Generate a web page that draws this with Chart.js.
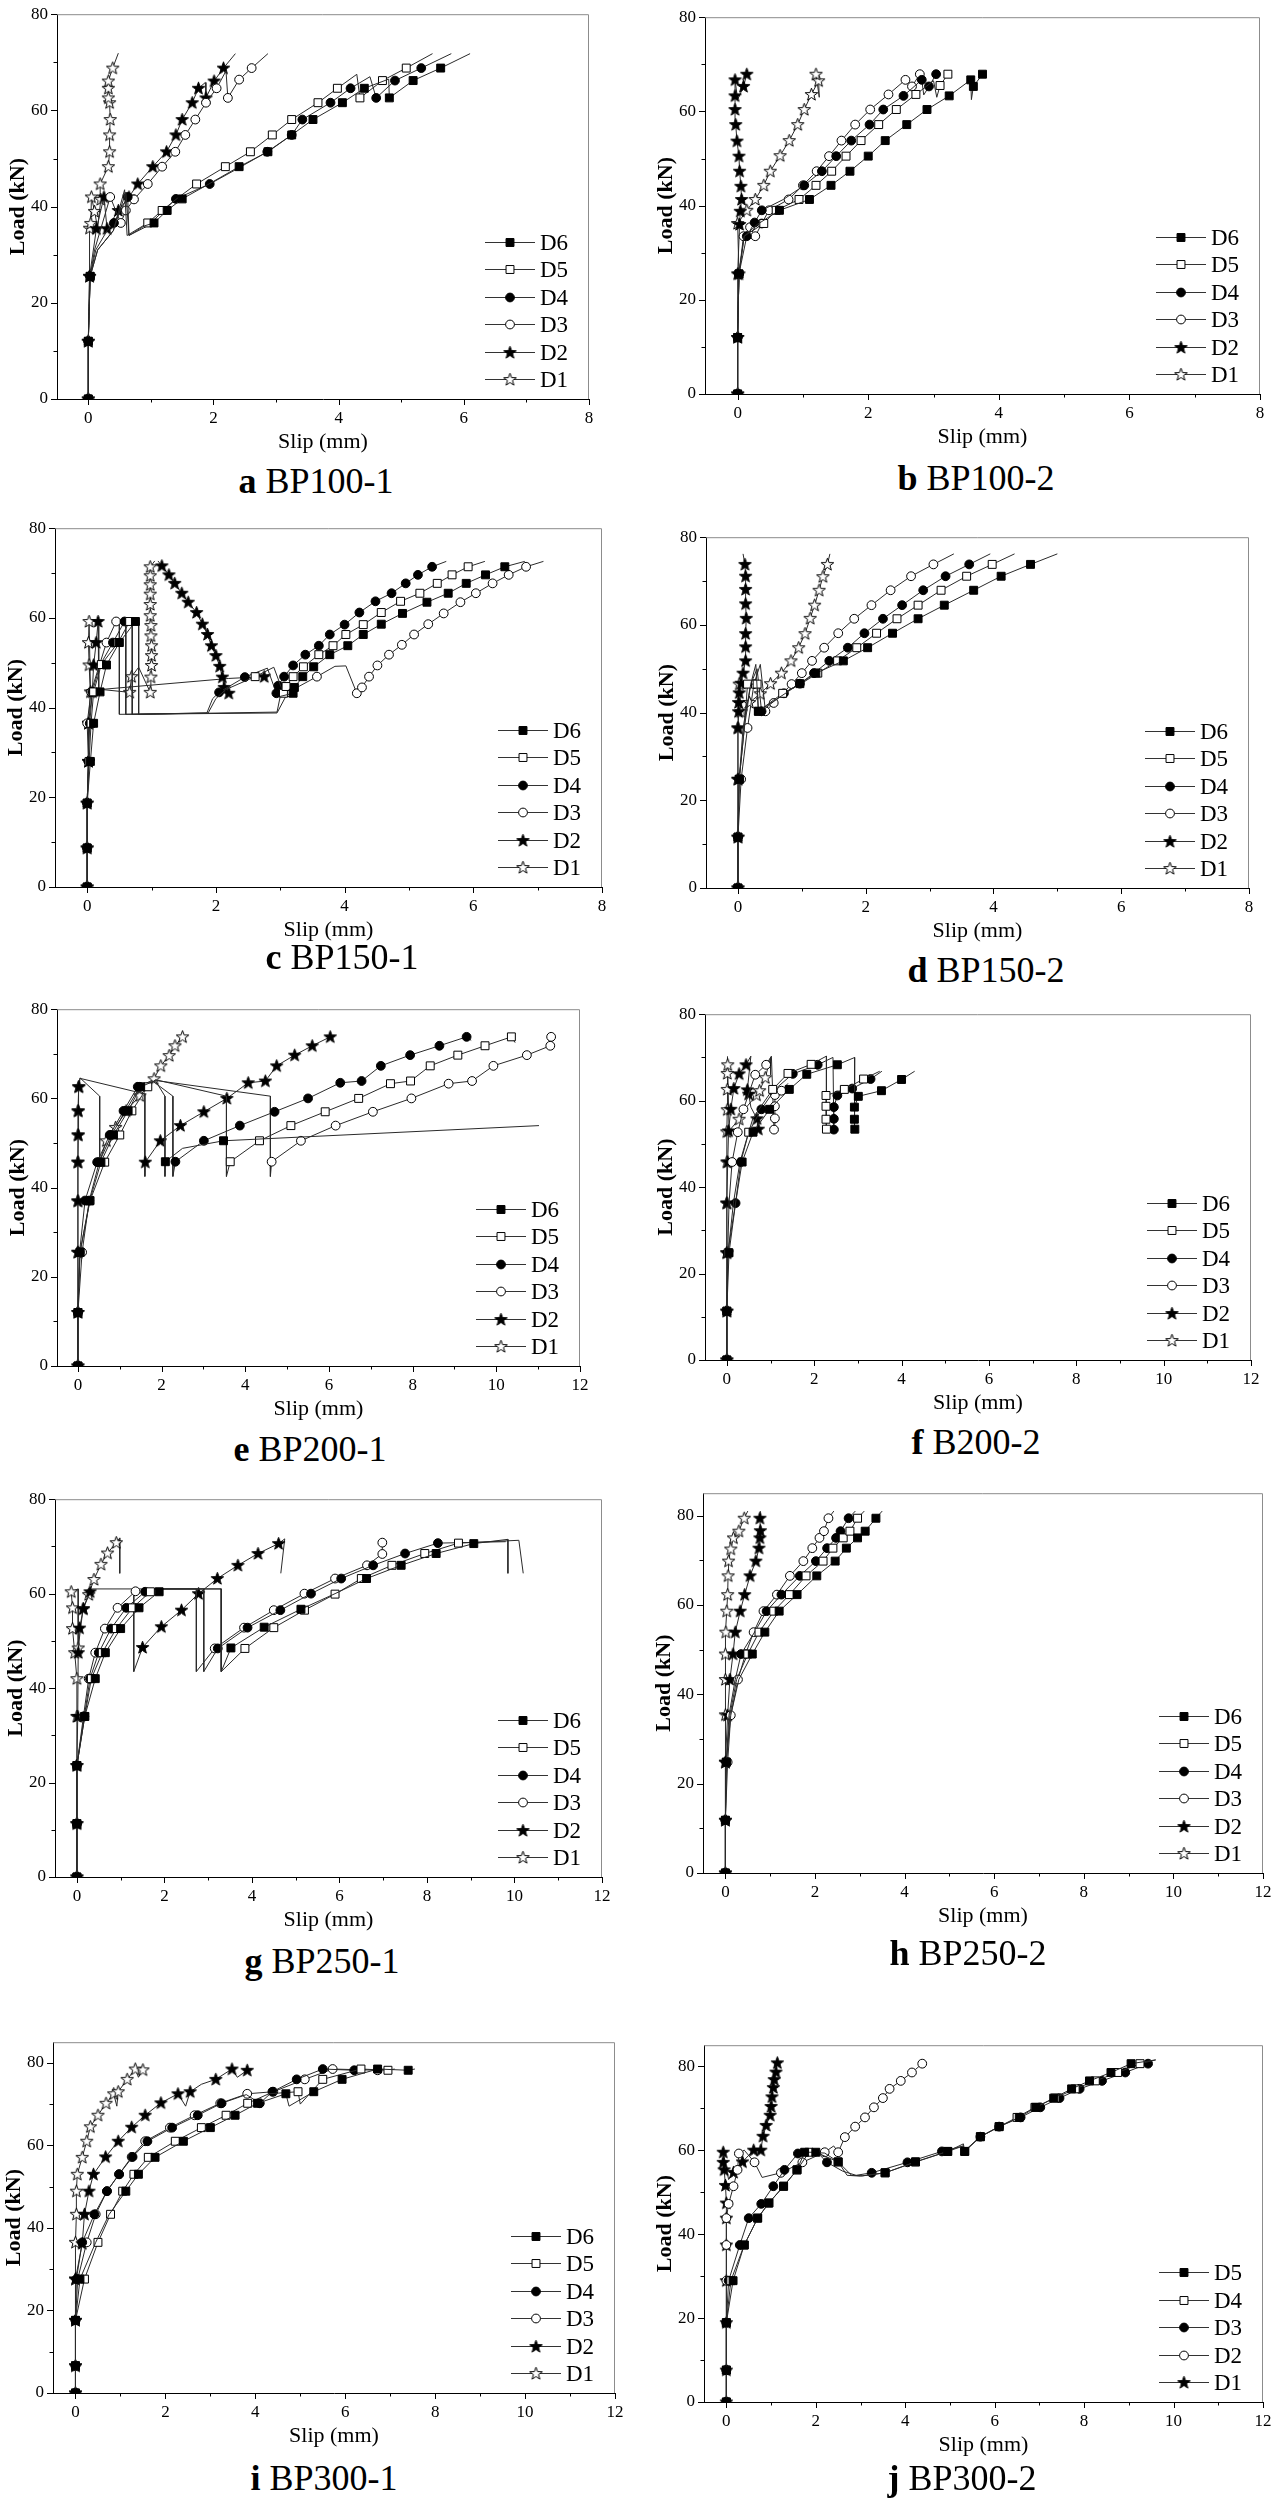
<!DOCTYPE html>
<html>
<head>
<meta charset="utf-8">
<script src="https://cdn.jsdelivr.net/npm/chart.js@4.4.1/dist/chart.umd.min.js"></script>
<style>
body { margin: 0; background: #fff; }
#page { position: relative; width: 1277px; height: 2507px; overflow: hidden; }
.panel { position: absolute; }
.cap { position: absolute; font-family: "Liberation Serif", serif; font-size: 36px; white-space: nowrap; transform: translate(-50%, -50%); color: #000; }
</style>
</head>
<body>
<div id="page"></div>
<script>
// Load-slip curves, one array per gauge and panel: [slip mm, load kN] (third value 0 = no marker, null = gap)

const namesSix = ['D6', 'D5', 'D4', 'D3', 'D2', 'D1'];
const namesFive = ['D5', 'D4', 'D3', 'D2', 'D1'];
const xTicksShort = [0, 1, 2, 3, 4, 5, 6, 7, 8];
const xTicksLong = [0, 1, 2, 3, 4, 5, 6, 7, 8, 9, 10, 11, 12];
const yTickValues = [0, 10, 20, 30, 40, 50, 60, 70, 80];

// a BP100-1
const a_D6 = [[0,0],[0,12],[0.03,25.5],[0.15,31,0],[0.4,35,0],[0.6,43,0],[0.65,34,0],[0.9,36,0],[1.05,36.6],[1.26,39.2],[1.5,41.6],[1.9,44.5,0],[2.41,48.3],[2.87,51.4],[3.25,54.9],[3.59,58.1],[4.06,61.6],[4.41,64.6],[4.8,66.5,0],[4.81,62.6],[5.19,66.2],[5.63,68.8],[6.1,71.8,0]];
const a_D5 = [[0,0],[0,12],[0.03,25.5],[0.15,31,0],[0.4,35,0],[0.58,43.5,0],[0.62,34,0],[0.95,36.6],[1.18,39.2],[1.45,42,0],[1.73,44.7],[2.19,48.3],[2.59,51.4],[2.94,54.9],[3.25,58.1],[3.67,61.6],[3.98,64.6],[4.29,67.5,0],[4.34,62.6],[4.7,66.2],[5.08,68.8],[5.5,71.8,0]];
const a_D4 = [[0,0],[0,12],[0.03,25.5],[0.12,31,0],[0.3,35,0],[0.41,36.6],[0.63,42],[0.65,34,0],[0.95,36,0],[1.4,41.6],[1.94,44.7],[2.4,48,0],[2.86,51.4],[3.25,54.9],[3.42,58.1],[3.87,61.6],[4.19,64.6],[4.5,67,0],[4.6,62.6],[4.9,66.2],[5.32,68.8],[5.8,71.8,0]];
const a_D3 = [[0,0],[0,12],[0.03,25.5],[0.1,31,0],[0.35,42],[0.52,36.6],[0.6,39.2],[0.73,41.5],[0.95,44.7],[1.18,48.3],[1.39,51.4],[1.55,54.9],[1.71,58.1],[1.88,61.6],[2.05,64.6],[2.2,68.2,0],[2.23,62.6],[2.41,66.4],[2.61,68.8],[2.87,71.8,0]];
const a_D2 = [[0,0],[0,12],[0.02,25.5],[0.13,35.4],[0.25,42],[0.3,35.4],[0.48,39.2],[0.65,42],[0.79,44.7],[1.03,48.3],[1.25,51.4],[1.4,54.9],[1.5,58.1],[1.66,61.6],[1.76,64.6],[1.87,65.8,0],[1.88,62.6],[2.01,66.1],[2.16,68.8],[2.35,71.8,0]];
const a_D1 = [[0,0],[0,12],[0.02,25.5],[0.02,35.5],[0.04,36.5],[0.05,42],[0.1,39],[0.15,35.5,0],[0.2,41.5],[0.19,44.7],[0.32,48.3],[0.34,51.4],[0.34,54.9],[0.35,58.1],[0.34,61.6],[0.32,62.6],[0.32,64.6],[0.32,66.1],[0.39,68.8],[0.48,71.9,0]];

// b BP100-2
const b_D6 = [[0,0],[0,12],[0.02,25.5],[0.1,33.5,0],[0.3,36,0],[0.64,39],[1.1,41.3],[1.43,44.3],[1.72,47.3],[2.0,50.5],[2.26,53.8],[2.59,57.2],[2.9,60.4],[3.24,63.3],[3.57,66.7],[3.58,62.5,0],[3.61,65.3],[3.75,67.9]];
const b_D5 = [[0,0],[0,12],[0.02,25.5],[0.1,33.5,0],[0.4,36.2],[0.59,39],[0.94,41.3],[1.2,44.3],[1.44,47.3],[1.66,50.5],[1.89,53.8],[2.16,57.2],[2.43,60.4],[2.73,63.6],[3.0,66.5,0],[3.05,63,0],[3.1,65.5],[3.22,67.9]];
const b_D4 = [[0,0],[0,12],[0.02,25.5],[0.14,33.5],[0.26,36.4],[0.37,39],[0.7,41.3,0],[1.02,44.3],[1.29,47.3],[1.51,50.5],[1.74,53.8],[2.02,57.2],[2.23,60.4],[2.54,63.3],[2.82,66.7],[2.85,63.5,0],[2.93,65.3],[3.04,67.9]];
const b_D3 = [[0,0],[0,12],[0.02,25.5],[0.09,33.5],[0.19,35.4],[0.27,33.5],[0.37,36.2],[0.48,39],[0.78,41.3],[1.0,44.3],[1.21,47.3],[1.4,50.5],[1.59,53.8],[1.8,57.2],[2.03,60.4],[2.31,63.6],[2.57,66.7],[2.67,65.3],[2.79,67.9]];
const b_D2 = [[0,0],[0,12],[0,25.5],[0.03,36],[0.04,38.8],[0.06,41.3],[0.05,44.1],[0.03,47.3],[0.02,50.5],[-0.01,53.7],[-0.03,57.2],[-0.04,60.4],[-0.04,63.3],[-0.04,66.7],[0,62.5,0],[0.09,65.3],[0.14,67.9]];
const b_D1 = [[0,0],[0,12],[0.02,25.5],[0,36.2],[0.14,39],[0.27,41.3],[0.4,44.3],[0.5,47.3],[0.65,50.6],[0.79,53.8],[0.92,57.2],[1.02,60.4],[1.13,63.6],[1.24,66.5],[1.25,63,0],[1.2,67.9]];

// c BP150-1
const c_D6 = [[0,0],[0,8.7],[0,18.7],[0.05,28],[0.1,36.5],[0.2,43.5],[0.3,49.5],[0.5,54.5],[0.75,59.2],[0.8,59.2,0],[0.8,38.5,0],[2.95,39,0],[3.0,42.5,0],[3.2,43.2],[3.22,44.5],[3.35,46.9],[3.52,49.1],[3.77,51.8],[4.05,53.8],[4.29,56.3],[4.57,58.6],[4.9,61],[5.28,63.5],[5.61,65.5],[5.89,67.7],[6.19,69.6],[6.49,71.4],[6.8,72.6,0]];
const c_D5 = [[0,0],[0,8.7],[0,18.7],[0.03,28],[0.06,36.5],[0.1,43.5],[0.22,49.6],[0.48,54.5],[0.66,59.2],[0.7,59.2,0],[0.7,38.5,0],[1.88,38.8,0],[2.0,42,0],[2.15,44,0],[2.61,46.9],[2.9,49,0],[3.05,43.2],[3.09,44.7],[3.2,46.9],[3.36,49.1],[3.6,51.8],[3.82,53.8],[4.02,56.3],[4.29,58.5],[4.57,61.2],[4.87,63.7],[5.17,65.5],[5.44,67.7],[5.67,69.6],[5.92,71.4],[6.18,72.6,0]];
const c_D4 = [[0,0],[0,8.7],[0,18.7],[0.02,28],[0.04,36.5],[0.08,43.5],[0.2,49.5,0],[0.4,54.5],[0.58,59.2],[0.6,59.2,0],[0.6,38.5,0],[1.86,38.8,0],[1.95,42,0],[2.05,43.4],[2.45,46.8],[2.8,48.8,0],[2.94,43.2],[2.97,44.9],[3.06,46.9],[3.2,49.4],[3.39,51.8],[3.6,53.8],[3.77,56.3],[4.0,58.5],[4.23,61.2],[4.48,63.7],[4.73,65.5],[4.95,67.7],[5.14,69.6],[5.36,71.4],[5.58,72.6,0]];
const c_D3 = [[0,0],[0,8.7],[0,18.7],[0.02,28],[0.0,36.5],[0.06,43.5],[0.3,54.5],[0.45,59.2],[0.5,59.2,0],[0.5,38.5,0],[2.95,38.8,0],[3.12,43.4],[3.57,46.9],[3.85,49.2,0],[4.02,49.3,0],[4.19,43.2],[4.27,44.5],[4.38,46.9],[4.51,49.4],[4.69,51.8],[4.89,54],[5.08,56.3],[5.3,58.6],[5.54,61],[5.8,63.5],[6.04,65.5],[6.3,67.7],[6.55,69.6],[6.82,71.4],[7.09,72.6,0]];
const c_D2 = [[0,0],[0,8.7],[0,18.7],[0.02,28],[0.02,36.5],[0.08,43.5],[0.1,49.5],[0.14,54.5],[0.17,59.2],[0.18,44,0],[2.2,46.5,0],[2.75,46.9],[2.85,47.5,0],null,[1.1,72.7,0],[1.16,71.6],[1.27,69.6],[1.36,67.7],[1.47,65.5],[1.57,63.5],[1.7,61.2],[1.79,58.6],[1.87,56.3],[1.93,53.8],[2.0,51.6],[2.06,49.2],[2.1,46.8],[2.13,44.5],[2.2,43.2]];
const c_D1 = [[0,0],[0,8.7],[0,18.7],[0.02,28],[0.02,36.5],[0.05,43.5],[0.03,49.5],[0.02,54.5],[0.03,59.2],[0.05,44.3,0],[0.66,43.4],[0.69,46.9],[0.8,49,0],[0.98,43.4],[0.99,46.8],[1.0,49.4],[1.0,51.6],[1.0,53.8],[0.99,56],[0.99,58.3],[0.98,60.5],[0.98,63],[0.98,65.3],[0.98,67.4],[0.98,69.4],[0.98,71.4],[1.05,72.7,0]];

// d BP150-2
const d_D6 = [[0,0],[0,11.6],[0.02,24.8],[0.1,36.5,0],[0.2,46.5,0],[0.28,51,0],[0.32,40.3],[0.6,43,0],[0.97,46.6],[1.22,49],[1.65,51.8],[2.03,54.8],[2.42,58.1],[2.82,61.4],[3.23,64.5],[3.69,67.9],[4.12,71.1],[4.58,73.8],[5.0,76.2,0]];
const d_D5 = [[0,0],[0,11.6],[0.02,24.8],[0.1,36.5,0],[0.15,46.5],[0.3,46.5],[0.32,40.3],[0.7,44.4],[1.0,46.7,0],[1.25,49],[1.56,51.8],[1.86,54.8],[2.17,58.1],[2.49,61.4],[2.82,64.5],[3.18,67.9],[3.58,71.1],[3.98,73.8],[4.33,76.2,0]];
const d_D4 = [[0,0],[0,11.6],[0.02,24.8],[0.08,36.5,0],[0.2,46.5,0],[0.3,50,0],[0.37,40.3],[0.72,44.4],[0.97,46.6],[1.19,49],[1.43,51.8],[1.72,54.8],[1.98,58.1],[2.27,61.4],[2.57,64.5],[2.9,67.9],[3.25,71.1],[3.62,73.8],[3.95,76.2,0]];
const d_D3 = [[0,0],[0,11.6],[0.05,24.8],[0.15,36.5],[0.25,46.5],[0.35,51,0],[0.43,40.3],[0.56,42.2],[0.84,46.5],[1.0,49],[1.16,51.8],[1.35,54.8],[1.57,58.1],[1.82,61.4],[2.09,64.5],[2.39,67.9],[2.71,71.1],[3.06,73.8],[3.38,76.2,0]];
const d_D2 = [[0,0],[0,11.6],[0,24.8],[0,36.5],[0.01,40.2],[0.01,42.3],[0.02,44.5],[0.05,46.7],[0.08,49],[0.12,51.8],[0.12,55],[0.12,58],[0.13,61.5],[0.12,64.8],[0.12,68.1],[0.12,71.1],[0.11,73.8],[0.08,76.2,0]];
const d_D1 = [[0,0],[0,11.6],[0,24.8],[0,36.5],[0.02,46.5],[0.05,40.2],[0.18,42.3],[0.35,44.3],[0.51,46.6],[0.68,49],[0.83,51.8],[0.95,54.8],[1.05,58],[1.13,61.5],[1.2,64.5],[1.27,67.9],[1.33,71],[1.4,73.8],[1.44,76.2,0]];

// e BP200-1
const e_D6 = [[0,0],[0,12],[0.05,25.5],[0.28,37],[0.55,45.7],[0.85,51.8],[1.2,57.2],[1.5,62.6],[1.85,64,0],[2.08,60.5,0],[2.08,42.5,0],[2.09,45.8],[2.5,48.8,0],[3.48,50.5],[11.02,53.9,0]];
const e_D5 = [[0,0],[0,12],[0.05,25.5],[0.29,37.1],[0.64,45.7],[1.0,51.8],[1.29,57.2],[1.67,62.6],[1.85,64.2,0],[3.55,60.5,0],[3.55,42.5,0],[3.64,45.8],[4.34,50.5],[5.09,53.9],[5.91,57],[6.71,60],[7.47,63.3],[7.95,63.9],[8.42,67.3],[9.08,69.7],[9.73,71.8],[10.36,73.8],[10.45,72.5,0]];
const e_D4 = [[0,0],[0,12],[0.04,25.5],[0.17,37.1],[0.46,45.7],[0.76,51.8],[1.09,57.2],[1.43,62.6],[1.77,64,0],[2.27,60.5,0],[2.27,42.5,0],[2.33,45.8],[3.01,50.5],[3.87,53.9],[4.7,57],[5.5,60],[6.27,63.5],[6.78,63.9],[7.24,67.3],[7.94,69.7],[8.64,71.8],[9.29,73.8],[9.4,73,0]];
const e_D3 = [[0,0],[0,12],[0.1,25.5],[0.27,37.1],[0.51,45.7],[0.8,51.8],[1.14,57.2],[1.48,62.6],[1.87,64,0],[4.6,60.5,0],[4.6,42.5,0],[4.63,45.8],[5.33,50.5],[6.16,53.9],[7.05,57],[7.97,60],[8.86,63.3],[9.42,63.9],[9.93,67.3],[10.73,69.7],[11.29,71.8],[11.31,73.8]];
const e_D2 = [[0,0],[0,12],[0,25.5],[0,37],[0,45.7],[0.01,51.8],[0.01,57.2],[0.02,62.6],[0.05,64.5,0],[1.6,61,0],[1.6,42.5,0],[1.61,45.7],[1.97,50.5],[2.45,53.9],[3.01,57],[3.56,60],[4.07,63.5],[4.48,63.9],[4.75,67.3],[5.18,69.7],[5.6,71.8],[6.03,73.8]];
const e_D1 = [[0,0],[0,12],[0,25.5],[0,37],[0,45.7],[0,51.8],[0,57.2],[0.02,62.6],[0.05,64.6,0],[0.52,60.5,0],[0.52,45.8,0],[0.68,50.5],[0.9,53.5],[1.15,57.2],[1.48,60.6],[1.82,64.4],[1.98,67.3],[2.18,69.6],[2.32,71.8],[2.5,73.8]];

// f B200-2
const f_D6 = [[0,0],[0,11.3],[0.05,24.8],[0.2,36.3,0],[0.35,45.8],[0.6,52.7],[0.98,58],[1.43,62.6],[1.83,66.1],[2.53,68.3],[2.93,70,0],[2.93,53.4],[2.92,55.7],[2.92,58.5],[3.01,61],[3.54,62.3],[4.0,64.9],[4.3,66.8,0]];
const f_D5 = [[0,0],[0,11.3],[0.03,24.8],[0.15,36.3,0],[0.3,45.8,0],[0.5,52.7],[0.6,56,0],[1.05,62.6],[1.4,66.3],[1.93,68.4],[2.28,70.3,0],[2.28,53.4],[2.27,55.7],[2.27,58.7],[2.27,61.2],[2.69,62.6],[3.13,65],[3.5,66.8,0]];
const f_D4 = [[0,0],[0,11.3],[0.02,24.8],[0.2,36.3],[0.32,45.8],[0.5,52.7,0],[0.79,58],[1.1,62.6,0],[1.51,66.2],[2.08,68.3],[2.43,70,0],[2.45,53.3],[2.45,55.8],[2.45,58.5],[2.53,61.2],[2.87,62.8],[3.29,65],[3.55,66.8,0]];
const f_D3 = [[0,0],[0,11.3],[0.02,24.8],[0.05,36.3,0],[0.12,45.8],[0.25,52.7],[0.38,58],[0.65,66],[0.9,68.3],[1.02,70.3,0],[1.08,53.3],[1.1,55.9],[1.1,58.7],[1.1,61.3],[1.25,62.3],[1.4,64,0]];
const f_D2 = [[0,0],[0,11.3],[0,24.8],[0,36.3],[0.02,45.8],[0.04,53],[0.09,58],[0.16,62.8],[0.28,66.2],[0.44,68.3],[0.55,70.3,0],[0.47,62.5],[0.5,61.5],[0.55,58.5,0],[0.69,55.8],[0.72,53.4]];
const f_D1 = [[0,0],[0,11.3],[0,24.8],[0,36.3],[0,45.8],[0,52.8],[0.01,57.9],[0.01,62.6],[0.01,66.3],[0.02,68.3],[0.02,70.2,0],[0.05,53,0],[0.28,55.7],[0.45,58.5,0],[0.68,61.3],[0.75,62.3],[0.88,65.3],[1.0,69.9,0],[1.0,66,0]];

// g BP250-1
const g_D6 = [[0,0],[0,11.3],[0,23.6],[0.18,34],[0.42,42],[0.65,47.5],[1.0,52.6],[1.42,57],[1.88,60.4],[1.95,61,0],[3.3,61,0],[3.3,43.5,0],[3.52,48.5],[4.28,52.9],[5.12,56.7],[5.9,60,0],[6.62,63.2],[7.41,66],[8.21,68.5],[9.07,70.6],[9.85,71.5,0],[9.85,64.3,0]];
const g_D5 = [[0,0],[0,11.3],[0,23.6],[0.18,34],[0.33,42],[0.58,47.5],[0.9,52.6],[1.27,57],[1.68,60.4],[1.75,61,0],[3.3,61,0],[3.3,43.5,0],[3.84,48.4],[4.5,52.8],[5.2,56.5],[5.9,59.9],[6.5,63.2],[7.2,66],[7.95,68.5],[8.72,70.7],[10.1,71.3,0],[10.2,64.3,0]];
const g_D4 = [[0,0],[0,11.3],[0,23.6],[0.17,34],[0.3,42],[0.5,47.5],[0.78,52.6],[1.13,57],[1.56,60.4],[1.62,61,0],[2.9,61,0],[2.9,43.5,0],[3.22,48.4],[3.9,52.8],[4.65,56.5],[5.35,60],[6.04,63.2],[6.77,66],[7.5,68.5],[8.25,70.7],[9.8,71,0]];
const g_D3 = [[0,0],[0,11.3],[0,23.6],[0.15,34],[0.27,42],[0.42,47.5],[0.64,52.6],[0.93,57],[1.34,60.5],[1.4,61,0],[2.73,61,0],[2.73,43.5,0],[3.15,48.4],[3.82,52.8],[4.5,56.5],[5.2,60],[5.9,63.2],[6.63,66],[6.98,68.4],[6.98,70.8]];
const g_D2 = [[0,0],[0,11.3],[0,23.6],[0.02,34],[0.03,47.5],[0.06,52.7],[0.15,56.8],[0.3,60.4],[0.35,61,0],[1.3,61,0],[1.3,43.5,0],[1.5,48.6],[1.93,53],[2.39,56.5],[2.78,60],[3.21,63.2],[3.68,66],[4.14,68.5],[4.61,70.6],[4.75,71.6,0],[4.66,64.3,0]];
const g_D1 = [[0,0],[0,11.3],[0,23.6],[0,34],[0,42],[-0.05,47.5],[-0.1,52.6],[-0.1,57],[-0.13,60.4],[0.03,61,0],[0.03,48.5],[0.14,56.8],[0.27,59.8],[0.39,63],[0.55,66.2],[0.7,68.6],[0.9,70.8],[0.98,71.8,0],[0.98,64.3,0]];

// h BP250-2
const h_D6 = [[0,0],[0,11.8],[0.02,24.8],[0.12,35.3,0],[0.3,43.3,0],[0.6,49],[0.88,53.9],[1.2,58.6],[1.6,62.3],[2.04,66.5],[2.45,69.8],[2.7,72.7],[2.95,75],[3.12,76.5],[3.36,79.4],[3.5,81,0]];
const h_D5 = [[0,0],[0,11.8],[0.02,24.8],[0.1,35.3,0],[0.25,43.3,0],[0.5,49],[0.75,53.9],[1.08,58.6],[1.43,62.3],[1.8,66.5],[2.18,69.8],[2.4,72.7],[2.63,75],[2.78,76.5],[2.95,79.4],[3.1,81,0]];
const h_D4 = [[0,0],[0,11.8],[0.02,24.8],[0.08,35.3,0],[0.22,43.3,0],[0.35,49],[0.65,53.9,0],[0.92,58.6],[1.25,62.3],[1.66,66.5],[2.02,69.8],[2.27,72.7],[2.47,75],[2.57,76.5],[2.75,79.4],[2.9,81,0]];
const h_D3 = [[0,0],[0,11.8],[0.05,24.8],[0.12,35.3],[0.28,43.3],[0.45,49],[0.63,53.9],[0.85,58.6],[1.15,62.3],[1.44,66.5],[1.74,69.8],[1.94,72.7],[2.1,75],[2.2,76.5],[2.3,79.4],[2.42,81,0]];
const h_D2 = [[0,0],[0,11.8],[0,24.8],[0.05,35.3],[0.1,43.3],[0.17,49],[0.22,53.9],[0.33,58.6],[0.43,62.3],[0.55,66.5],[0.68,69.8],[0.75,72.7],[0.77,75],[0.78,76.6],[0.77,79.4],[0.78,81,0]];
const h_D1 = [[0,0],[0,11.8],[0,24.8],[0,35.4],[0,43.3],[0,49],[0.01,53.9],[0.03,58.6],[0.05,62.3],[0.06,66.5],[0.07,69.8],[0.12,72.5],[0.18,75],[0.3,76.5],[0.42,79.4],[0.5,81,0]];

// i BP300-1
const i_D6 = [[0,0],[0,6.6],[0,17.6],[0.1,27.6],[0.45,36.5,0],[0.75,43.3,0],[1.12,48.9],[1.4,53],[1.77,57.1],[2.4,61],[3.0,64.3],[3.55,67.3],[4.05,70.2],[4.68,72.5],[4.75,69.5,0],[5.3,73],[5.93,76],[6.72,78.5],[7.4,78.2],[7.55,78.5,0]];
const i_D5 = [[0,0],[0,6.6],[0,17.6],[0.2,27.6],[0.5,36.5],[0.78,43.3],[1.05,48.9],[1.3,53],[1.62,57.1],[2.22,61],[2.8,64.3],[3.35,67.3],[3.83,70.2],[4.3,72.5,0],[4.95,73],[5.0,70,0],[5.5,76],[6.35,78.5],[6.95,78.2],[7.1,78.5,0]];
const i_D4 = [[0,0],[0,6.6],[0,17.6],[0.02,27.6],[0.15,36.5],[0.42,43.3],[0.7,48.9],[0.97,53],[1.27,57.2],[1.6,61],[2.15,64.3],[2.72,67.3],[3.25,70.2],[3.8,72.3,0],[4.1,70.2],[4.38,73],[4.92,76],[5.5,78.5],[6.2,78.2],[6.4,78.5,0]];
const i_D3 = [[0,0],[0,6.6],[0,17.6],[0.05,27.6],[0.25,36.5],[0.45,43.3],[0.7,48.9],[0.97,53],[1.25,57.2],[1.55,61],[2.1,64.3],[2.65,67.3],[3.22,70.2],[3.82,72.5],[4.4,73],[5.1,76],[5.72,78.5],[6.72,78.2],[6.9,78.5,0]];
const i_D2 = [[0,0],[0,6.6],[0,17.6],[0,27.6],[0.15,36.2],[0.2,43.3],[0.3,48.9],[0.4,53],[0.67,57.2],[0.95,61],[1.25,64.4],[1.55,67.3],[1.9,70.3],[2.28,72.5],[2.45,69.5,0],[2.55,73],[2.8,74.8,0],[3.12,76],[3.48,78.5],[3.6,76.5,0],[3.82,78.2]];
const i_D1 = [[0,0],[0,6.6],[0,17.6],[0,27.6],[0,36.5],[0.02,43.3],[0.02,48.9],[0.04,53],[0.15,57.1],[0.25,61],[0.33,64.5],[0.5,67.3],[0.68,70.2],[0.85,72.5],[0.92,69.5,0],[0.95,73],[1.15,76],[1.33,78.5],[1.4,76.5,0],[1.5,78.3]];

// j BP300-2 (five gauges)
const j_D5 = [[0,0],[0,7.6],[0,18.9],[0.15,28.9],[0.4,37.4],[0.7,43.8],[0.95,47.4],[1.28,51.4],[1.58,55.3],[1.75,59.5],[2.0,59.5],[2.5,57.2],[2.7,54,0],[3.0,53.8,0],[3.55,54.6],[4.23,57.2],[4.95,59.7],[5.3,61.5,0],[5.33,59.7],[5.68,63.2],[6.1,65.6],[6.55,67.8],[6.92,70.2],[7.32,72.4],[7.72,74.6],[8.12,76.5],[8.6,78.5],[9.05,80.6],[9.6,81.5,0]];
const j_D4 = [[0,0],[0,7.6],[0,18.9],[0.1,28.9],[0.4,37.4],[0.7,43.8],[0.95,47.4],[1.28,51.4],[1.58,55.3],[1.85,59.5],[2.2,59.3,0],[2.5,57.2],[2.8,54,0],[3.05,53.9,0],[3.55,54.6],[4.23,57.2],[4.95,59.7],[5.3,61,0],[5.33,59.7],[5.68,63.2],[6.1,65.6],[6.5,67.8],[6.9,70.2],[7.35,72.4],[7.8,74.6],[8.25,76.5],[8.75,78.5],[9.25,80.6],[9.6,81.5,0]];
const j_D3 = [[0,0],[0,7.6],[0,18.9],[0.05,28.9],[0.3,37.4],[0.5,43.8],[0.78,47.2],[1.05,51.4],[1.3,55.3],[1.6,59.2],[2.0,59.8,0],[2.25,57.1],[2.6,55,0],[2.9,54,0],[3.25,54.6],[4.05,57.1],[4.82,59.7],[5.3,61,0],[5.32,59.8,0],[5.68,63.2],[6.1,65.6],[6.58,67.8],[7.02,70.2],[7.45,72.4],[7.9,74.6],[8.4,76.5],[8.92,78.5],[9.43,80.6]];
const j_D2 = [[0,0],[0,7.6],[0,18.9],[0,28.9],[0,37.4],[0,43.8],[0.05,47.2],[0.16,51.4],[0.25,55.3],[0.28,59.2],[0.4,60,0],[0.63,57.1],[0.8,53.5,0],[1.22,54.6],[1.7,57.1],[2.2,59.5],[2.4,61,0],[2.5,59.5],[2.65,63.1],[2.88,65.6],[3.1,67.8],[3.3,70.2],[3.5,72.4],[3.65,74.6],[3.9,76.5],[4.15,78.5],[4.38,80.6]];
const j_D1 = [[0,0],[0,7.6],[0,18.9],[0,28.9],[0,37.4],[0,43.8],[0,47.4],[-0.02,51.6],[-0.05,55.3],[-0.07,57.1],[-0.07,59.5],[0.05,53,0],[0.16,54.7],[0.36,57.2],[0.61,60],[0.77,60],[0.82,63.3],[0.89,65.9],[0.98,68.3],[1.0,70.4],[1.02,72.7],[1.05,74.9],[1.07,76.8],[1.11,78.6],[1.14,80.8]];

// layout of each panel: frame [left, right, top, bottom] in page pixels, caption centre
const panels = [
  { tag: 'a', name: 'BP100-1', frame: [57, 589, 13, 399], xMax: 8, yMax: 80, cap: [316, 481], names: namesSix, series: [a_D6, a_D5, a_D4, a_D3, a_D2, a_D1] },
  { tag: 'b', name: 'BP100-2', frame: [705, 1260, 16, 394], xMax: 8, yMax: 80, cap: [976, 478], names: namesSix, series: [b_D6, b_D5, b_D4, b_D3, b_D2, b_D1] },
  { tag: 'c', name: 'BP150-1', frame: [55, 602, 527, 887], xMax: 8, yMax: 80, cap: [342, 957], names: namesSix, series: [c_D6, c_D5, c_D4, c_D3, c_D2, c_D1] },
  { tag: 'd', name: 'BP150-2', frame: [706, 1249, 536, 888], xMax: 8, yMax: 80, cap: [986, 970], names: namesSix, series: [d_D6, d_D5, d_D4, d_D3, d_D2, d_D1] },
  { tag: 'e', name: 'BP200-1', frame: [57, 580, 1008, 1366], xMax: 12, yMax: 80, cap: [310, 1449], names: namesSix, series: [e_D6, e_D5, e_D4, e_D3, e_D2, e_D1] },
  { tag: 'f', name: 'B200-2', frame: [705, 1251, 1013, 1360], xMax: 12, yMax: 80, cap: [976, 1442], names: namesSix, series: [f_D6, f_D5, f_D4, f_D3, f_D2, f_D1] },
  { tag: 'g', name: 'BP250-1', frame: [55, 602, 1498, 1877], xMax: 12, yMax: 80, cap: [322, 1961], names: namesSix, series: [g_D6, g_D5, g_D4, g_D3, g_D2, g_D1] },
  { tag: 'h', name: 'BP250-2', frame: [703, 1263, 1492, 1873], xMax: 12, yMax: 85, cap: [968, 1953], names: namesSix, series: [h_D6, h_D5, h_D4, h_D3, h_D2, h_D1] },
  { tag: 'i', name: 'BP300-1', frame: [53, 615, 2041, 2393], xMax: 12, yMax: 85, cap: [324, 2478], names: namesSix, series: [i_D6, i_D5, i_D4, i_D3, i_D2, i_D1] },
  { tag: 'j', name: 'BP300-2', frame: [704, 1263, 2044, 2402], xMax: 12, yMax: 85, cap: [962, 2478], names: namesFive, series: [j_D5, j_D4, j_D3, j_D2, j_D1] }
];

Chart.defaults.font.family = '"Liberation Serif", "Times New Roman", serif';
Chart.defaults.color = '#000';

const AXIS_W = 56, AXIS_H = 60, PAD_T = 12, PAD_R = 14;

// five-pointed star marker, drawn once
function makeStar(filled) {
  const c = document.createElement('canvas');
  c.width = 15; c.height = 15;
  const g = c.getContext('2d');
  g.beginPath();
  for (let k = 0; k < 10; k++) {
    const r = k % 2 === 0 ? 6.6 : 2.7;
    const ang = -Math.PI / 2 + k * Math.PI / 5;
    const px = 7.5 + r * Math.cos(ang), py = 7.8 + r * Math.sin(ang);
    if (k === 0) g.moveTo(px, py); else g.lineTo(px, py);
  }
  g.closePath();
  g.fillStyle = filled ? '#000' : '#fff';
  g.fill();
  g.strokeStyle = '#000';
  g.lineWidth = 1;
  g.stroke();
  return c;
}
const STAR_FILLED = makeStar(true);
const STAR_OPEN = makeStar(false);

const markerSix = [
  { style: 'rect', fill: '#000', r: 5.6 },
  { style: 'rect', fill: '#fff', r: 5.6 },
  { style: 'circle', fill: '#000', r: 4.4 },
  { style: 'circle', fill: '#fff', r: 4.4 },
  { style: STAR_FILLED, fill: '#000', r: 5 },
  { style: STAR_OPEN, fill: '#fff', r: 5 }
];
const markerFive = markerSix.slice(0, 5);

function drawMarker(ctx, mk, x, y) {
  if (typeof mk.style !== 'string') {
    ctx.drawImage(mk.style, x - mk.style.width / 2, y - mk.style.height / 2);
    return;
  }
  ctx.fillStyle = mk.fill;
  ctx.strokeStyle = '#000';
  ctx.lineWidth = 1;
  ctx.beginPath();
  if (mk.style === 'rect') {
    const s = mk.r * Math.SQRT1_2;
    ctx.rect(x - s, y - s, 2 * s, 2 * s);
  } else {
    ctx.arc(x, y, mk.r, 0, Math.PI * 2);
  }
  ctx.fill();
  ctx.stroke();
}

// frame, minor/major ticks and the line+marker legend
const decorPlugin = {
  id: 'decor',
  afterDraw(chart) {
    const { ctx, chartArea: a } = chart;
    const p = chart.options.plugins.decor;
    const xs = chart.scales.x, ys = chart.scales.y;
    ctx.save();
    ctx.strokeStyle = '#8c8c8c';
    ctx.lineWidth = 1;
    ctx.beginPath();
    ctx.moveTo(a.left, a.top + 0.5);
    ctx.lineTo(a.right - 0.5, a.top + 0.5);
    ctx.lineTo(a.right - 0.5, a.bottom);
    ctx.stroke();

    ctx.strokeStyle = '#000';
    ctx.beginPath();
    p.xTicks.forEach(v => {
      const px = Math.round(xs.getPixelForValue(v)) + 0.5;
      const len = v % 2 === 0 ? 6 : 3.5;
      ctx.moveTo(px, a.bottom);
      ctx.lineTo(px, a.bottom + len);
    });
    yTickValues.forEach(v => {
      const py = Math.round(ys.getPixelForValue(v)) + 0.5;
      const len = v % 20 === 0 ? 6 : 3.5;
      ctx.moveTo(a.left, py);
      ctx.lineTo(a.left - len, py);
    });
    ctx.stroke();

    const n = p.names.length;
    p.names.forEach((name, i) => {
      const y = Math.round(a.bottom - 20 - (n - 1 - i) * 27.5) + 0.5;
      ctx.strokeStyle = '#333';
      ctx.lineWidth = 1;
      ctx.beginPath();
      ctx.moveTo(a.right - 104, y);
      ctx.lineTo(a.right - 54, y);
      ctx.stroke();
      drawMarker(ctx, p.markers[i], a.right - 79, y);
      ctx.fillStyle = '#000';
      ctx.font = '23px "Liberation Serif", serif';
      ctx.textAlign = 'left';
      ctx.textBaseline = 'middle';
      ctx.fillText(name, a.right - 49, y + 1);
    });
    ctx.restore();
  }
};

function toPoints(list) {
  return list.map(p => p ? { x: p[0], y: p[1], m: p[2] !== 0 } : { x: NaN, y: NaN, m: false });
}

function buildPanel(p) {
  const page = document.getElementById('page');
  const [L, R, T, B] = p.frame;
  const markers = p.names.length === 6 ? markerSix : markerFive;
  const xTicks = p.xMax === 8 ? xTicksShort : xTicksLong;

  const box = document.createElement('div');
  box.className = 'panel';
  box.style.left = (L - AXIS_W) + 'px';
  box.style.top = (T - PAD_T) + 'px';
  const cv = document.createElement('canvas');
  const cw = (R - L) + AXIS_W + PAD_R, ch = (B - T) + PAD_T + AXIS_H;
  cv.width = cw; cv.height = ch;
  cv.style.width = cw + 'px'; cv.style.height = ch + 'px';
  box.appendChild(cv);
  page.appendChild(box);

  const cap = document.createElement('div');
  cap.className = 'cap';
  cap.style.left = p.cap[0] + 'px';
  cap.style.top = p.cap[1] + 'px';
  cap.innerHTML = '<b>' + p.tag + '</b> ' + p.name;
  page.appendChild(cap);

  const datasets = p.series.map((s, i) => {
    const mk = markers[i];
    return {
      label: p.names[i],
      data: toPoints(s),
      showLine: true,
      spanGaps: false,
      borderColor: '#2a2a2a',
      borderWidth: 1,
      pointStyle: mk.style,
      pointBackgroundColor: mk.fill,
      pointBorderColor: '#000',
      pointBorderWidth: 1,
      pointRadius: ctx => (ctx.raw && ctx.raw.m ? mk.r : 0),
      pointHoverRadius: 0
    };
  });

  new Chart(cv, {
    type: 'scatter',
    data: { datasets },
    options: {
      responsive: false,
      animation: false,
      devicePixelRatio: 1,
      layout: { padding: { left: 0, top: PAD_T, right: PAD_R, bottom: 0 } },
      plugins: {
        legend: { display: false },
        tooltip: { enabled: false },
        decor: { names: p.names, markers, xTicks }
      },
      scales: {
        x: {
          type: 'linear',
          min: -0.5,
          max: p.xMax,
          afterBuildTicks: axis => { axis.ticks = xTicks.map(v => ({ value: v })); },
          afterFit: axis => { axis.height = AXIS_H; },
          grid: { display: false, drawTicks: true, tickLength: 6 },
          border: { display: true, color: '#000', width: 1 },
          ticks: { autoSkip: false, maxRotation: 0, padding: 3, font: { size: 17 }, color: '#000',
                   callback: v => (v % 2 === 0 ? String(v) : '') },
          title: { display: true, text: 'Slip (mm)', font: { size: 22 }, color: '#000', padding: { top: 0, bottom: 4 } }
        },
        y: {
          type: 'linear',
          min: 0,
          max: p.yMax,
          afterBuildTicks: axis => { axis.ticks = yTickValues.map(v => ({ value: v })); },
          afterFit: axis => { axis.width = AXIS_W; },
          grid: { display: false, drawTicks: true, tickLength: 6 },
          border: { display: true, color: '#000', width: 1 },
          ticks: { autoSkip: false, padding: 3, font: { size: 17 }, color: '#000',
                   callback: v => (v % 20 === 0 ? String(v) : '') },
          title: { display: true, text: 'Load (kN)', font: { size: 22, weight: 'bold' }, color: '#000', padding: { top: 4, bottom: 0 } }
        }
      }
    },
    plugins: [decorPlugin]
  });
}

panels.forEach(buildPanel);
</script>
</body>
</html>
